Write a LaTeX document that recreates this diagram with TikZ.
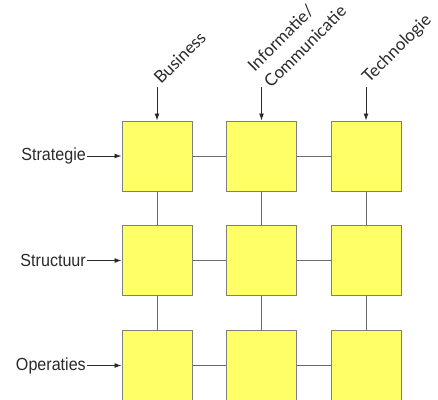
\documentclass[tikz,border=0pt]{standalone}
\usepackage{fontspec}
\setmainfont{Liberation Sans}
\newfontfamily\headfont{Lato}
\usetikzlibrary{arrows.meta}
\definecolor{cellfill}{HTML}{FFFF66}
\definecolor{cellline}{HTML}{7F7F7F}
\definecolor{linkgray}{HTML}{6A6A6A}
\definecolor{feedgray}{HTML}{2A2A2A}
\begin{document}
\begin{tikzpicture}[x=1pt,y=-1pt,
  cell/.style={draw=cellline, fill=cellfill, line width=1pt,
    minimum width=70pt, minimum height=70pt, inner sep=0pt},
  link/.style={draw=linkgray, line width=1pt},
  feed/.style={draw=feedgray, line width=0.9pt, -{Latex[length=7pt,width=5pt]}},
  rowlabel/.style={anchor=east, inner sep=1pt, text=feedgray,
    font=\fontsize{17.5}{20}\selectfont},
  collabel/.style={anchor=base west, inner sep=0pt, rotate=45, align=left,
    text=feedgray, font=\headfont\fontsize{17}{22}\selectfont}]
\useasboundingbox (0,0) rectangle (438,399);

% grid of cells
\foreach \c/\x in {1/157,2/261.5,3/366}{
  \foreach \r/\y in {1/156,2/260.5,3/365.5}{
    \node[cell] (c\r\c) at (\x,\y) {};
  }
}

% links between neighbouring cells
\foreach \r in {1,2,3}{
  \draw[link] (c\r1.east) -- (c\r2.west);
  \draw[link] (c\r2.east) -- (c\r3.west);
}
\foreach \c in {1,2,3}{
  \draw[link] (c1\c.south) -- (c2\c.north);
  \draw[link] (c2\c.south) -- (c3\c.north);
}

% row labels
\node[rowlabel] (r1) at (87,156) {\scalebox{0.92}[1]{Strategie}};
\node[rowlabel] (r2) at (87,260.5) {\scalebox{0.92}[1]{Structuur}};
\node[rowlabel] (r3) at (87,365.5) {\scalebox{0.92}[1]{Operaties}};
\foreach \r in {1,2,3}{
  \draw[feed] (r\r.east) -- (c\r1.west);
}

% column labels
\coordinate (t1) at (157,87);
\coordinate (t2) at (261.5,87);
\coordinate (t3) at (366,87);
\node[collabel] (k1) at (161,85) {Business};
\node[collabel] (k2) at (271,89) {Informatie/\\[1pt]Communicatie};
\node[collabel] (k3) at (369,84) {Technologie};
\foreach \c in {1,2,3}{
  \draw[feed] (t\c) -- (c1\c.north);
}
\end{tikzpicture}
\end{document}
